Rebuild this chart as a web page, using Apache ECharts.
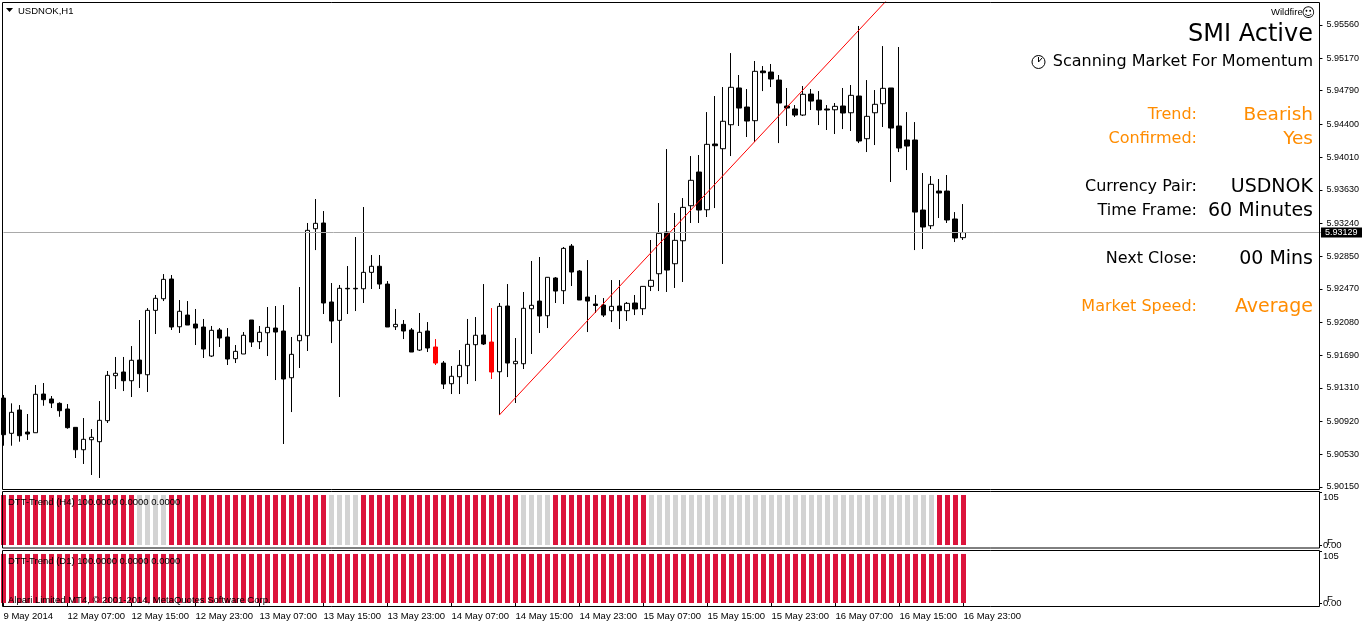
<!DOCTYPE html>
<html>
<head>
<meta charset="utf-8">
<title>USDNOK,H1</title>
<style>
html, body { margin: 0; padding: 0; background: #fff; }
#chart { width: 1362px; height: 624px; }
</style>
<script src="https://cdn.jsdelivr.net/npm/echarts@6/dist/echarts.min.js"></script>
</head>
<body>
<div id="chart"></div>
<script>
// candle values, one per H1 bar
var opens = [
	5.91191,5.90778,5.91051,5.90793,5.90785,5.91238,5.91180,5.91129,5.91063,5.90848,
	5.90586,5.90703,5.90680,5.90926,5.91453,5.91496,5.91394,5.91636,5.91464,5.92218,
	5.92354,5.92585,5.92026,5.92163,5.92058,5.92023,5.91683,5.91988,5.91906,5.91652,
	5.91707,5.92105,5.91851,5.91956,5.92011,5.91976,5.91429,5.91862,5.91921,5.93174,
	5.93241,5.92316,5.92101,5.92476,5.92476,5.92471,5.92663,5.92734,5.92526,5.92026,
	5.92054,5.91988,5.91753,5.91976,5.91789,5.91601,5.91359,5.91441,5.91570,5.91816,
	5.91929,5.91847,5.91499,5.92269,5.91593,5.91593,5.92237,5.92327,5.92155,5.92597,
	5.92448,5.92971,5.92679,5.92374,5.92292,5.92280,5.92214,5.92269,5.92214,5.92304,
	5.92237,5.92499,5.92647,5.93135,5.92764,5.93033,5.93443,5.93838,5.93396,5.94166,
	5.94111,5.94392,5.94822,5.94599,5.94439,5.95021,5.95009,5.94915,5.94611,5.94576,
	5.94505,5.94751,5.94681,5.94576,5.94567,5.94611,5.94532,5.94728,5.94228,5.94532,
	5.94638,5.94822,5.94377,5.94213,5.94213,5.93393,5.93209,5.93615,5.93615,5.93288,
	5.93069
];
var closes = [
	5.90762,5.91024,5.90750,5.90770,5.91235,5.91172,5.91133,5.91043,5.90844,5.90586,
	5.90708,5.90731,5.90930,5.91457,5.91481,5.91394,5.91633,5.91476,5.92218,5.92359,
	5.92581,5.92023,5.92207,5.92046,5.92011,5.91765,5.91984,5.91894,5.91648,5.91738,
	5.91926,5.91847,5.91961,5.92019,5.91964,5.91414,5.91703,5.91926,5.93155,5.93237,
	5.92304,5.92093,5.92476,5.92470,5.92470,5.92663,5.92734,5.92526,5.92023,5.92054,
	5.91976,5.91730,5.91961,5.91777,5.91601,5.91355,5.91446,5.91574,5.91820,5.91926,
	5.91824,5.91496,5.92265,5.91601,5.91621,5.92242,5.92277,5.92152,5.92605,5.92444,
	5.92944,5.92667,5.92339,5.92327,5.92275,5.92163,5.92265,5.92214,5.92300,5.92234,
	5.92499,5.92570,5.93120,5.92690,5.93038,5.93424,5.93741,5.93393,5.94162,5.94146,
	5.94432,5.94830,5.94587,5.94435,5.95017,5.95001,5.94927,5.94646,5.94587,5.94505,
	5.94748,5.94669,5.94564,5.94564,5.94607,5.94529,5.94736,5.94201,5.94490,5.94631,
	5.94818,5.94353,5.94119,5.94142,5.93369,5.93194,5.93694,5.93592,5.93276,5.93065,
	5.93129
];
var lows = [
	5.90633,5.90633,5.90680,5.90700,5.90785,5.91101,5.91074,5.90972,5.90832,5.90489,
	5.90419,5.90290,5.90255,5.90899,5.91297,5.91273,5.91203,5.91309,5.91262,5.91941,
	5.92327,5.91988,5.91953,5.92046,5.91812,5.91660,5.91672,5.91789,5.91578,5.91601,
	5.91707,5.91789,5.91765,5.91683,5.91402,5.90653,5.91027,5.91543,5.91742,5.92924,
	5.92175,5.91835,5.91203,5.92175,5.92210,5.92304,5.92468,5.92468,5.92023,5.91988,
	5.91882,5.91730,5.91742,5.91730,5.91578,5.91297,5.91238,5.91238,5.91355,5.91390,
	5.91812,5.91414,5.90992,5.91437,5.91133,5.91531,5.91707,5.91953,5.92011,5.92304,
	5.92292,5.92503,5.92339,5.91964,5.92187,5.92140,5.92081,5.91999,5.92093,5.92163,
	5.92163,5.92444,5.92444,5.92433,5.92480,5.92550,5.93241,5.93241,5.93311,5.93416,
	5.92761,5.94025,5.94377,5.94248,5.94189,5.94786,5.94833,5.94177,5.94377,5.94482,
	5.94494,5.94564,5.94388,5.94330,5.94283,5.94341,5.94318,5.94177,5.94072,5.94154,
	5.94365,5.93721,5.94072,5.93861,5.92924,5.92936,5.93170,5.93299,5.93241,5.93018,
	5.93042
];
var highs = [
	5.91227,5.91129,5.91109,5.91004,5.91344,5.91367,5.91215,5.91141,5.91121,5.90848,
	5.90957,5.90828,5.91156,5.91508,5.91672,5.91672,5.91800,5.92105,5.92245,5.92398,
	5.92643,5.92632,5.92339,5.92327,5.92234,5.92117,5.92035,5.92011,5.92011,5.91812,
	5.91964,5.92105,5.92035,5.92257,5.92269,5.92280,5.91906,5.92491,5.93241,5.93522,
	5.93381,5.92538,5.92515,5.92737,5.93077,5.93428,5.92866,5.92866,5.92561,5.92234,
	5.92105,5.92011,5.92187,5.92081,5.91882,5.91625,5.91566,5.91753,5.92117,5.92140,
	5.92526,5.92245,5.92304,5.92526,5.91894,5.92433,5.92796,5.92843,5.92608,5.92608,
	5.92960,5.92995,5.92690,5.92807,5.92398,5.92362,5.92573,5.92573,5.92316,5.92398,
	5.92503,5.93042,5.93475,5.94107,5.93358,5.93533,5.94025,5.94037,5.94540,5.94728,
	5.94833,5.95231,5.94974,5.94810,5.95138,5.95079,5.95103,5.94974,5.94822,5.94622,
	5.94845,5.94810,5.94786,5.94622,5.94646,5.94822,5.94857,5.95548,5.94915,5.94798,
	5.95313,5.94822,5.95302,5.94540,5.94423,5.93826,5.93791,5.93756,5.93803,5.93369,
	5.93463
];
// candles the chart paints red
var redBars = [54, 61];
var trendLine = [[62, 5.90992], [111, 5.95904]];
var bidPrice = 5.93129;

// indicator panels
var h4Bear = [
	100,100,100,100,100,100,100,100,100,100,
	100,100,100,100,100,100,100,0,0,0,
	0,100,100,100,100,100,100,100,100,100,
	100,100,100,100,100,100,100,100,100,100,
	100,0,0,0,0,100,100,100,100,100,
	100,100,100,100,100,100,100,100,100,100,
	100,100,100,100,100,0,0,0,0,100,
	100,100,100,100,100,100,100,100,100,100,
	100,0,0,0,0,0,0,0,0,0,
	0,0,0,0,0,0,0,0,0,0,
	0,0,0,0,0,0,0,0,0,0,
	0,0,0,0,0,0,0,100,100,100,
	100
];
var h4Flat = [
	0,0,0,0,0,0,0,0,0,0,
	0,0,0,0,0,0,0,100,100,100,
	100,0,0,0,0,0,0,0,0,0,
	0,0,0,0,0,0,0,0,0,0,
	0,100,100,100,100,0,0,0,0,0,
	0,0,0,0,0,0,0,0,0,0,
	0,0,0,0,0,100,100,100,100,0,
	0,0,0,0,0,0,0,0,0,0,
	0,100,100,100,100,100,100,100,100,100,
	100,100,100,100,100,100,100,100,100,100,
	100,100,100,100,100,100,100,100,100,100,
	100,100,100,100,100,100,100,0,0,0,
	0
];
var d1Bear = [
	100,100,100,100,100,100,100,100,100,100,
	100,100,100,100,100,100,100,100,100,100,
	100,100,100,100,100,100,100,100,100,100,
	100,100,100,100,100,100,100,100,100,100,
	100,100,100,100,100,100,100,100,100,100,
	100,100,100,100,100,100,100,100,100,100,
	100,100,100,100,100,100,100,100,100,100,
	100,100,100,100,100,100,100,100,100,100,
	100,100,100,100,100,100,100,100,100,100,
	100,100,100,100,100,100,100,100,100,100,
	100,100,100,100,100,100,100,100,100,100,
	100,100,100,100,100,100,100,100,100,100,
	100
];

// axis labels
var timeLabels = ['9 May 2014','12 May 07:00','12 May 15:00','12 May 23:00','13 May 07:00','13 May 15:00','13 May 23:00','14 May 07:00',
	'14 May 15:00','14 May 23:00','15 May 07:00','15 May 15:00','15 May 23:00','16 May 07:00','16 May 15:00','16 May 23:00'];
var priceLabels = [5.95560,5.95170,5.94790,5.94400,5.94010,5.93630,5.93240,5.92850,5.92470,5.92080,5.91690,5.91310,5.90920,5.90530,5.90150];

var TICK_FONT = '"Liberation Sans", sans-serif';
var INFO_FONT = '"DejaVu Sans", sans-serif';
var ORANGE = '#ff8c00';

// the axis runs on past the last bar, empty, up to the price scale
var categories = [];
for (var i = 0; i < 166; i++) {
	categories.push(i % 8 === 0 && i / 8 < timeLabels.length ? timeLabels[i / 8] : '');
}
function isTimeTick(i) {
	return i % 8 === 0 && i / 8 < timeLabels.length;
}

var candles = opens.map(function (o, i) {
	var item = { value: [o, closes[i], lows[i], highs[i]] };
	if (redBars.indexOf(i) > -1) {
		item.itemStyle = { color: '#ff0000', color0: '#ff0000', borderColor: '#ff0000', borderColor0: '#ff0000' };
	}
	return item;
});

function xAxisFor(gridIndex, visible) {
	return {
		type: 'category',
		gridIndex: gridIndex,
		data: categories,
		boundaryGap: false,
		axisLine: { show: false },
		axisTick: { show: visible, interval: isTimeTick, length: 4, lineStyle: { color: '#000' } },
		axisLabel: {
			show: visible,
			interval: isTimeTick,
			align: 'left',
			margin: 5,
			color: '#000',
			fontFamily: TICK_FONT,
			fontSize: 9.5
		},
		splitLine: { show: false }
	};
}

function panelAxis(gridIndex, min) {
	return {
		type: 'value',
		gridIndex: gridIndex,
		position: 'right',
		offset: -3.5,
		min: min,
		max: 105,
		axisLine: { show: false },
		axisTick: { show: true, customValues: [0, 105], length: 2, lineStyle: { color: '#000' } },
		axisLabel: {
			customValues: [0, 105],
			formatter: function (v) { return v === 0 ? '0.00' : String(v); },
			verticalAlignMaxLabel: 'top',
			margin: 3,
			color: '#000',
			fontFamily: TICK_FONT,
			fontSize: 9.5
		},
		splitLine: { show: false }
	};
}

function infoText(text, x, y, size, color) {
	return {
		type: 'text',
		silent: true,
		z: 20,
		style: {
			x: x, y: y + 2, text: text, fill: color || '#000',
			font: size + 'px ' + INFO_FONT,
			textAlign: 'right',
			textVerticalAlign: 'middle'
		}
	};
}

function smallText(text, x, y, color) {
	return {
		type: 'text',
		silent: true,
		z: 20,
		style: {
			x: x, y: y, text: text, fill: color || '#000',
			font: '9.5px ' + TICK_FONT,
			textVerticalAlign: 'middle'
		}
	};
}

function panelBorder(x, y, w, h) {
	return {
		type: 'rect',
		silent: true,
		z: 15,
		shape: { x: x, y: y, width: w, height: h },
		style: { fill: null, stroke: '#000', lineWidth: 1 }
	};
}

var chart = echarts.init(document.getElementById('chart'));

var option = {
	animation: false,
	backgroundColor: '#fff',
	grid: [
		{ left: 3.5, width: 1320, top: 2, height: 487 },
		{ left: 3.5, width: 1320, top: 492.5, height: 55.5 },
		{ left: 3.5, width: 1320, top: 551.5, height: 55 }
	],
	xAxis: [xAxisFor(0, false), xAxisFor(1, false), xAxisFor(2, true)],
	yAxis: [
		{
			type: 'value',
			gridIndex: 0,
			position: 'right',
			offset: -3.5,
			min: 5.90126,
			max: 5.95829,
			axisLine: { show: false },
			axisTick: { show: true, customValues: priceLabels, length: 3, lineStyle: { color: '#000' } },
			axisLabel: {
				customValues: priceLabels,
				formatter: function (v) { return v.toFixed(5); },
				margin: 7,
				color: '#000',
				fontFamily: TICK_FONT,
				fontSize: 9
			},
			splitLine: { show: false }
		},
		panelAxis(1, -6),
		panelAxis(2, -7.1)
	],
	series: [
		{
			type: 'candlestick',
			xAxisIndex: 0,
			yAxisIndex: 0,
			data: candles,
			barWidth: 5,
			silent: true,
			itemStyle: {
				color: '#fff',
				color0: '#000',
				borderColor: '#000',
				borderColor0: '#000',
				borderWidth: 1
			},
			markLine: {
				silent: true,
				symbol: 'none',
				precision: 5,
				lineStyle: { color: '#a9a9a9', width: 1, type: 'solid' },
				label: {
					position: 'end',
					distance: -2,
					formatter: function () { return bidPrice.toFixed(5); },
					color: '#fff',
					backgroundColor: '#000',
					padding: [1, 5, 0, 4],
					fontFamily: TICK_FONT,
					fontSize: 9
				},
				data: [{ yAxis: bidPrice }]
			}
		},
		{
			type: 'line',
			xAxisIndex: 0,
			yAxisIndex: 0,
			data: trendLine,
			symbol: 'none',
			silent: true,
			lineStyle: { color: '#ff0000', width: 1 }
		},
		{
			type: 'bar',
			xAxisIndex: 1,
			yAxisIndex: 1,
			data: h4Bear,
			barWidth: 5,
			barGap: '-100%',
			silent: true,
			itemStyle: { color: '#dc143c' }
		},
		{
			type: 'bar',
			xAxisIndex: 1,
			yAxisIndex: 1,
			data: h4Flat,
			barWidth: 5,
			barGap: '-100%',
			silent: true,
			itemStyle: { color: '#d3d3d3' }
		},
		{
			type: 'bar',
			xAxisIndex: 2,
			yAxisIndex: 2,
			data: d1Bear,
			barWidth: 5,
			silent: true,
			itemStyle: { color: '#dc143c' }
		}
	],
	graphic: [
		panelBorder(2.5, 2.5, 1317, 487),
		panelBorder(2.5, 491.5, 1317, 56.5),
		panelBorder(2.5, 550.5, 1317, 56),

		// header
		{ type: 'polygon', silent: true, z: 20, shape: { points: [[6, 8], [13, 8], [9.5, 12]] }, style: { fill: '#000' } },
		smallText('USDNOK,H1', 18, 11),

		// info block on the right
		smallText('Wildfire', 1271, 12),
		infoText('\u263A', 1315, 12, 13),
		infoText('SMI Active', 1313, 33, 24),
		infoText('Scanning Market For Momentum', 1313, 60, 16),
		{ type: 'circle', silent: true, z: 20, shape: { cx: 1038.5, cy: 62, r: 6.5 }, style: { fill: '#fff', stroke: '#000', lineWidth: 1 } },
		{ type: 'polyline', silent: true, z: 20, shape: { points: [[1042, 58], [1038.5, 62], [1038.5, 57]] }, style: { fill: null, stroke: '#000', lineWidth: 1 } },
		infoText('Trend:', 1197, 113, 16, ORANGE),
		infoText('Bearish', 1313, 113, 18.5, ORANGE),
		infoText('Confirmed:', 1197, 137, 16, ORANGE),
		infoText('Yes', 1313, 137, 18.5, ORANGE),
		infoText('Currency Pair:', 1197, 185, 16),
		infoText('USDNOK', 1313, 185, 19),
		infoText('Time Frame:', 1197, 209, 16),
		infoText('60 Minutes', 1313, 209, 19),
		infoText('Next Close:', 1197, 257, 16),
		infoText('00 Mins', 1313, 257, 19),
		infoText('Market Speed:', 1197, 305, 16, ORANGE),
		infoText('Average', 1313, 305, 19, ORANGE),

		// indicator captions
		smallText('DTT-Trend (H4) 100.0000 0.0000 0.0000', 8, 502),
		smallText('DTT-Trend (D1) 100.0000 0.0000 0.0000', 8, 561),
		smallText('Alpari Limited MT4, \u00A9 2001-2014, MetaQuotes Software Corp.', 8, 600),
		smallText('F', 1327, 542),
		smallText('F', 1327, 599)
	]
};

chart.setOption(option);
</script>
</body>
</html>
